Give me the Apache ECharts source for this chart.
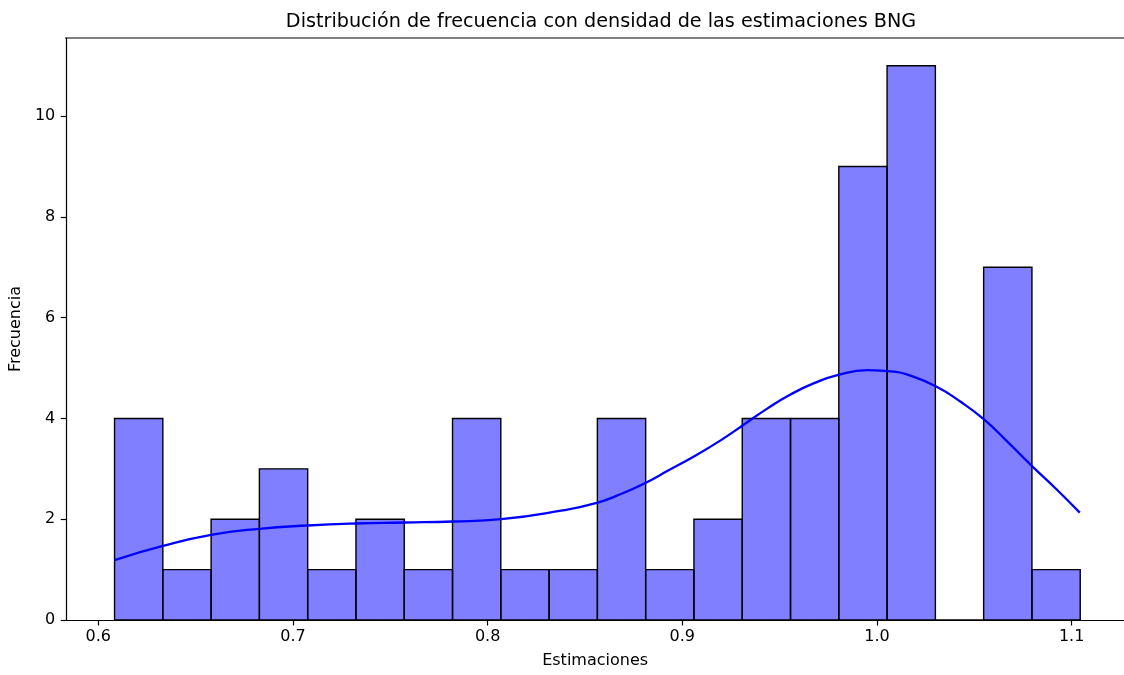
<!DOCTYPE html>
<html>
<head>
<meta charset="utf-8">
<script src="https://cdn.jsdelivr.net/npm/echarts@6/dist/echarts.min.js"></script>
<style>
html,body{margin:0;padding:0;background:#fff;}
#chart{width:1124px;height:675px;}
</style>
</head>
<body>
<div id="chart"></div>
<script>
// Histogram: 20 bins
const binStart = 0.60836;
const binWidth = 0.024803;
const counts = [4, 1, 2, 3, 1, 2, 1, 4, 1, 1, 4, 1, 2, 4, 4, 9, 11, 0, 7, 1];

// KDE curve points
const kdeX = [0.6084, 0.6332, 0.6580, 0.6828, 0.7077, 0.7325, 0.7573, 0.7821, 0.8070, 0.8378, 0.8566, 0.8685, 0.8805, 0.8925, 0.9062, 0.9199, 0.9310, 0.9438, 0.9558, 0.9677, 0.9797, 0.9951, 1.0088, 1.0157, 1.0302, 1.0430, 1.0550, 1.0670, 1.0798, 1.0926, 1.1042];
const kdeY = [1.19, 1.47, 1.69, 1.81, 1.875, 1.915, 1.935, 1.955, 2.00, 2.17, 2.33, 2.50, 2.71, 2.96, 3.25, 3.57, 3.86, 4.20, 4.48, 4.70, 4.86, 4.96, 4.93, 4.87, 4.64, 4.33, 3.98, 3.54, 3.05, 2.58, 2.13];

const xTicks = [0.6, 0.7, 0.8, 0.9, 1.0, 1.1];
const yTicks = [0, 2, 4, 6, 8, 10];

const title = 'Distribución de frecuencia con densidad de las estimaciones BNG';
const xName = 'Estimaciones';
const yName = 'Frecuencia';

const histData = counts.map((c, i) => [binStart + i * binWidth, binStart + (i + 1) * binWidth, c]);
const kdeData = kdeX.map((x, i) => [x, kdeY[i]]);

const FONT = 'DejaVu Sans';
const chart = echarts.init(document.getElementById('chart'), null, {renderer: 'canvas'});
chart.setOption({
  animation: false,
  backgroundColor: '#ffffff',
  title: {
    text: title,
    left: 596, top: 8, textAlign: 'center',
    textStyle: {fontFamily: FONT, fontSize: 19.2, fontWeight: 'normal', color: '#000'}
  },
  grid: {left: 65, right: 0, top: 38, bottom: 55, containLabel: false},
  xAxis: {
    type: 'value', min: 0.58356, max: 1.12691,
    name: xName, nameLocation: 'middle', nameGap: 33,
    nameTextStyle: {fontFamily: FONT, fontSize: 16, color: '#000'},
    axisLine: {show: true, onZero: false, lineStyle: {color: '#000', width: 1.2}},
    axisTick: {show: true, length: 5.5, lineStyle: {color: '#000', width: 1.2}, customValues: xTicks},
    axisLabel: {fontFamily: FONT, fontSize: 16, color: '#000', margin: 9,
      customValues: xTicks, formatter: v => v.toFixed(1)},
    splitLine: {show: false}
  },
  yAxis: {
    type: 'value', min: 0, max: 11.55,
    name: yName, nameLocation: 'middle', nameGap: 36,
    nameTextStyle: {fontFamily: FONT, fontSize: 16, color: '#000'},
    axisLine: {show: true, lineStyle: {color: '#000', width: 1.2}},
    axisTick: {show: true, length: 5.5, lineStyle: {color: '#000', width: 1.2}, customValues: yTicks},
    axisLabel: {fontFamily: FONT, fontSize: 16, color: '#000', margin: 11, customValues: yTicks},
    splitLine: {show: false}
  },
  graphic: [{
    type: 'line', silent: true, z: 100,
    shape: {x1: 65, y1: 38, x2: 1124, y2: 38},
    style: {stroke: '#000', lineWidth: 1.2}
  }],
  series: [
    {
      type: 'custom',
      data: histData,
      encode: {x: [0, 1], y: 2},
      renderItem: function (params, api) {
        const p0 = api.coord([api.value(0), api.value(2)]);
        const p1 = api.coord([api.value(1), 0]);
        return {
          type: 'rect',
          shape: {x: p0[0], y: p0[1], width: p1[0] - p0[0], height: p1[1] - p0[1]},
          style: {fill: 'rgba(0,0,255,0.5)', stroke: '#000', lineWidth: 1.4}
        };
      },
      z: 2
    },
    {
      type: 'line',
      data: kdeData,
      smooth: 0.5,
      showSymbol: false,
      lineStyle: {color: '#0000ff', width: 2.3},
      z: 3
    }
  ]
});
</script>
</body>
</html>
